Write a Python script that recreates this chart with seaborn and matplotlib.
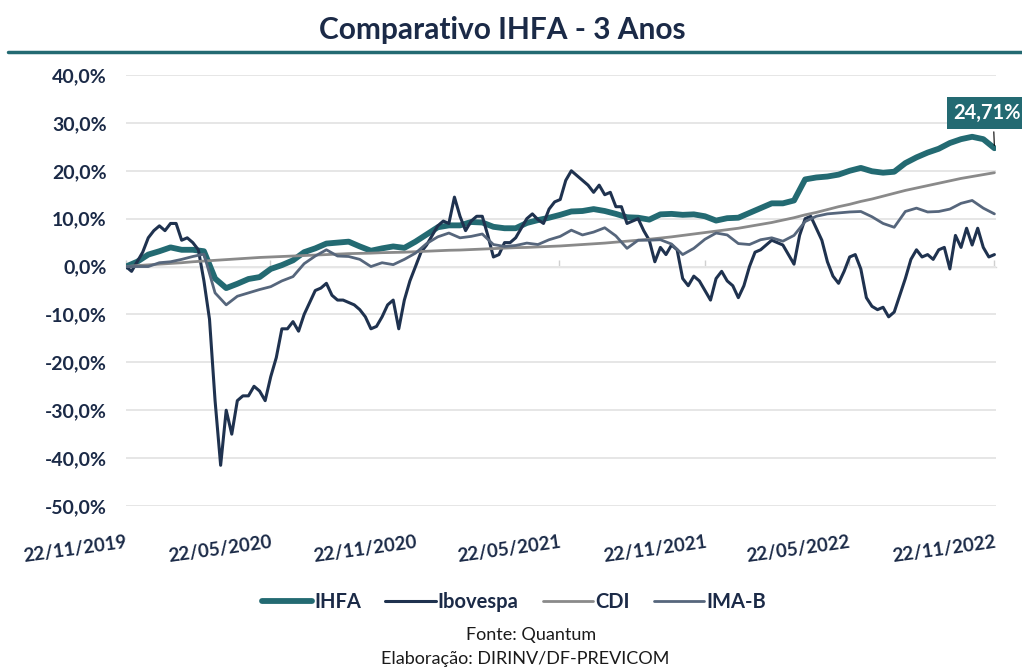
import pandas as pd
import numpy as np
import matplotlib
matplotlib.use("Agg")
import matplotlib.pyplot as plt
import matplotlib.dates as mdates
from matplotlib.lines import Line2D
import seaborn as sns

INICIO = "2019-11-22"
FIM = "2022-11-22"

# Ibovespa, leitura aproximada semanal (%)
ibovespa = [
    0, -1, 1, 3, 6, 7.5, 8.5, 7.5, 9, 9,
    5.5, 6, 5, 3.5, -3, -11, -28, -41.5, -30, -35,
    -28, -27, -27, -25, -26, -28, -23, -19, -13, -13,
    -11.5, -13.5, -10, -7.5, -5, -4.5, -3.5, -6, -7, -7,
    -7.5, -8, -9, -10.5, -13, -12.5, -10.5, -8, -7, -13,
    -7, -3, 0, 3, 4.5, 6.5, 8.5, 9.5, 9, 14.5,
    10.5, 7.5, 9.5, 10.5, 10.5, 6.5, 2, 2.5, 5, 5,
    6, 8, 10, 11, 9.8, 9, 12, 13.5, 14, 18,
    20, 19, 18, 17, 15.5, 17, 15, 15.5, 12.5, 12.5,
    9, 9.5, 10, 7.5, 5.5, 1, 4, 2.5, 4.5, 3.5,
    -2.5, -4, -2, -3, -5, -7, -2.5, -1, -3, -4,
    -6.5, -4, 0, 3, 3.5, 4.5, 5.5, 5, 4.5, 2.5,
    0.5, 6.5, 10, 10.5, 8, 5.5, 1, -2, -3.5, -1,
    2, 2.5, -0.5, -6.5, -8.3, -9, -8.5, -10.5, -9.5, -6,
    -2.5, 1.5, 3.5, 2, 2.5, 1.5, 3.5, 4, -0.5, 6.5,
    4, 8, 4.5, 8, 4, 2, 2.5,
]

# IHFA, CDI e IMA-B, leitura aproximada quinzenal (%)
ihfa = [
    0, 1, 2.5, 3.2, 4, 3.5, 3.5, 3.2, -2.5, -4.5,
    -3.6, -2.6, -2.2, -0.5, 0.3, 1.3, 3, 3.8, 4.8, 5,
    5.2, 4.2, 3.3, 3.8, 4.2, 3.9, 5.2, 6.7, 8.2, 8.6,
    8.6, 9.3, 9.2, 8.3, 8, 8, 9.1, 9.7, 10.2, 10.8,
    11.5, 11.6, 12, 11.6, 11, 10.3, 10.2, 9.8, 10.9, 11,
    10.8, 10.9, 10.5, 9.6, 10.1, 10.2, 11.2, 12.2, 13.2, 13.2,
    13.8, 18.2, 18.6, 18.8, 19.2, 20, 20.6, 19.9, 19.6, 19.8,
    21.6, 22.8, 23.8, 24.6, 25.8, 26.6, 27.1, 26.6, 24.71,
]

cdi = [
    0, 0.2, 0.35, 0.5, 0.65, 0.8, 1.0, 1.15, 1.3, 1.45,
    1.6, 1.75, 1.9, 2.0, 2.1, 2.2, 2.3, 2.4, 2.5, 2.6,
    2.7, 2.75, 2.8, 2.9, 2.95, 3.0, 3.1, 3.2, 3.3, 3.4,
    3.45, 3.55, 3.65, 3.75, 3.85, 3.95, 4.0, 4.1, 4.2, 4.3,
    4.45, 4.6, 4.75, 4.9, 5.1, 5.3, 5.5, 5.7, 5.95, 6.2,
    6.5, 6.8, 7.1, 7.4, 7.7, 8.0, 8.4, 8.8, 9.2, 9.7,
    10.2, 10.8, 11.3, 11.9, 12.5, 13.0, 13.6, 14.1, 14.7, 15.3,
    15.9, 16.4, 16.9, 17.4, 17.9, 18.4, 18.8, 19.2, 19.6,
]

ima_b = [
    0, 0, 0, 0.8, 1, 1.5, 2.1, 2.6, -5.5, -8,
    -6.2, -5.5, -4.8, -4.2, -3, -2.1, 0.6, 2.2, 3.5, 2.2,
    2.1, 1.5, 0, 0.8, 0.4, 1.5, 2.8, 4.8, 6.2, 7,
    6, 6.3, 6.8, 4.6, 4.2, 4.4, 4.9, 4.6, 5.6, 6.3,
    7.6, 6.6, 7.2, 8.1, 6.4, 3.8, 5.5, 5.5, 5.6, 4.7,
    2.5, 3.8, 5.7, 7, 6.6, 4.8, 4.6, 5.6, 6, 5.3,
    6.5, 9.4, 10.5, 11, 11.2, 11.4, 11.5, 10.4, 9, 8.2,
    11.5, 12.2, 11.4, 11.5, 12, 13.2, 13.8, 12.2, 11,
]

datas_ticks = ["2019-11-22", "2020-05-22", "2020-11-22", "2021-05-22",
               "2021-11-22", "2022-05-22", "2022-11-22"]
ticks_y = [-50, -40, -30, -20, -10, 0, 10, 20, 30, 40]

AZUL_TXT = "#1b2a47"
cores = {"IHFA": "#236a72", "Ibovespa": "#1f324f", "CDI": "#8a8a8a", "IMA-B": "#56667c"}
larguras = {"IHFA": 4.2, "Ibovespa": 2.2, "CDI": 2.0, "IMA-B": 2.0}

semanal = pd.date_range(INICIO, FIM, periods=len(ibovespa))
quinzenal = pd.date_range(INICIO, FIM, periods=len(ihfa))
series = {
    "IHFA": pd.DataFrame({"data": quinzenal, "valor": ihfa}),
    "Ibovespa": pd.DataFrame({"data": semanal, "valor": ibovespa}),
    "CDI": pd.DataFrame({"data": quinzenal, "valor": cdi}),
    "IMA-B": pd.DataFrame({"data": quinzenal, "valor": ima_b}),
}

sns.set_theme(style="white")
plt.rcParams["font.family"] = ["Lato", "DejaVu Sans"]

fig = plt.figure(figsize=(10.22, 6.71), dpi=100)
ax = fig.add_axes([126 / 1022, 1 - 506 / 671, 870 / 1022, 431 / 671])

for nome, df in series.items():
    sns.lineplot(data=df, x="data", y="valor", ax=ax, color=cores[nome],
                 linewidth=larguras[nome], label=nome, legend=False,
                 solid_capstyle="round", solid_joinstyle="round")

handles, labels = ax.get_legend_handles_labels()
if ax.get_legend() is not None:
    ax.get_legend().remove()

ax.set_ylim(-50, 40)
ax.set_xlim(pd.Timestamp(INICIO), pd.Timestamp(FIM) + pd.Timedelta(days=2))
ax.set_yticks(ticks_y)
ax.set_yticklabels([f"{v:.1f}%".replace(".", ",") for v in ticks_y])
xt = pd.to_datetime(datas_ticks)
ax.set_xticks(xt)
ax.set_xticklabels([d.strftime("%d/%m/%Y") for d in xt], rotation=8,
                   ha="right", va="top", rotation_mode="anchor")
ax.set_xlabel("")
ax.set_ylabel("")
for s in ax.spines.values():
    s.set_visible(False)
ax.yaxis.grid(True, color="#e6e6e6", linewidth=1.4)
ax.xaxis.grid(False)
ax.set_axisbelow(True)
ax.tick_params(axis="y", length=0, pad=14, labelsize=14, labelcolor=AZUL_TXT)
ax.tick_params(axis="x", length=0, pad=20, labelsize=13.5, labelcolor=AZUL_TXT)
for t in ax.get_xticklabels() + ax.get_yticklabels():
    t.set_fontweight("bold")

# eixo de categorias cruzando em 0
pos_zero = (0 - ticks_y[0]) / (ticks_y[-1] - ticks_y[0])
sec = ax.secondary_xaxis(pos_zero)
sec.set_xticks(mdates.date2num(xt))
sec.set_xticklabels([])
sec.tick_params(axis="x", length=5, width=1, color="#d0d0d0", direction="out")
for nome_sp, sp in sec.spines.items():
    sp.set_color("#d9d9d9")
    sp.set_linewidth(1)

# rótulo do último valor do IHFA
ultimo = series["IHFA"].iloc[-1]
ax.annotate(f"{ultimo['valor']:.2f}%".replace(".", ","),
            xy=(ultimo["data"], ultimo["valor"]),
            xytext=(953, 671 - 113), textcoords="figure pixels",
            ha="left", va="center", color="white", fontsize=14.5, fontweight="bold",
            bbox=dict(boxstyle="square,pad=0.3", fc=cores["IHFA"], ec="none"),
            arrowprops=dict(arrowstyle="-", color="black", lw=0.8, relpos=(0.6, 0)),
            annotation_clip=False)

fig.text(502 / 1022, 1 - 30 / 671, "Comparativo IHFA - 3 Anos", ha="center", va="center",
         fontsize=21.5, fontweight="bold", color=AZUL_TXT)
fig.add_artist(Line2D([8 / 1022, 1], [1 - 52 / 671, 1 - 52 / 671],
                      color=cores["IHFA"], linewidth=2.5))

fig.legend(handles, labels, loc="center", bbox_to_anchor=(514 / 1022, 1 - 602 / 671),
           ncol=4, frameon=False, prop=dict(weight="bold", size=14.5),
           labelcolor=AZUL_TXT, handlelength=2.5, handletextpad=0.1, columnspacing=1.2)

fig.text(531 / 1022, 1 - 635 / 671, "Fonte: Quantum", ha="center", va="center",
         fontsize=13, color="#1a1a1a")
fig.text(525 / 1022, 1 - 659 / 671, "Elaboração: DIRINV/DF-PREVICOM", ha="center",
         va="center", fontsize=13, color="#1a1a1a")

fig.savefig("out.png", dpi=100)
